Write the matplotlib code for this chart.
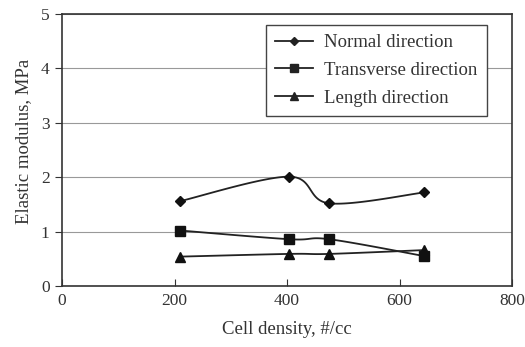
import numpy as np
import matplotlib
matplotlib.use('Agg')
import matplotlib.pyplot as plt

plt.rcParams['font.family'] = ['Liberation Serif', 'DejaVu Serif']

# cell density (#/cc) and elastic modulus (MPa) per direction
density = [210, 404, 475, 644]
normal = [1.56, 2.01, 1.52, 1.72]
transverse = [1.02, 0.86, 0.86, 0.55]
length = [0.54, 0.59, 0.59, 0.66]

x_ticks = [0, 200, 400, 600, 800]
y_ticks = [0, 1, 2, 3, 4, 5]


def smooth(xs, ys, n=40):
    # catmull-rom style bezier through the points (like spreadsheet smoothed lines)
    xs = np.asarray(xs, float)
    ys = np.asarray(ys, float)
    px = np.concatenate([[xs[0]], xs, [xs[-1]]])
    py = np.concatenate([[ys[0]], ys, [ys[-1]]])
    outx, outy = [], []
    t = np.linspace(0, 1, n)
    for i in range(1, len(px) - 2):
        p0 = np.array([px[i], py[i]])
        p3 = np.array([px[i + 1], py[i + 1]])
        c1 = p0 + (np.array([px[i + 1], py[i + 1]]) - np.array([px[i - 1], py[i - 1]])) / 6
        c2 = p3 - (np.array([px[i + 2], py[i + 2]]) - np.array([px[i], py[i]])) / 6
        b = ((1 - t) ** 3)[:, None] * p0 + (3 * (1 - t) ** 2 * t)[:, None] * c1 \
            + (3 * (1 - t) * t ** 2)[:, None] * c2 + (t ** 3)[:, None] * p3
        outx.extend(b[:, 0])
        outy.extend(b[:, 1])
    return outx, outy


fig = plt.figure(figsize=(5.25, 3.47), dpi=100)
ax = fig.add_axes([62 / 525, 61 / 347, 450 / 525, 272 / 347])

series = [(normal, 'D', 5.5, 'Normal direction'),
          (transverse, 's', 6.8, 'Transverse direction'),
          (length, '^', 6.8, 'Length direction')]
for ys, mk, ms, name in series:
    sx, sy = smooth(density, ys)
    ax.plot(sx, sy, color='#222222', lw=1.3)
    ax.plot(density, ys, ls='none', marker=mk, ms=ms, color='#111111')
    ax.plot([], [], color='#222222', lw=1.3, marker=mk, ms=ms * 0.75, label=name)

ax.set_xlim(0, 800)
ax.set_ylim(0, 5)
ax.set_xticks(x_ticks)
ax.set_yticks(y_ticks)
ax.yaxis.grid(True, color='#999999', lw=0.8)
ax.set_axisbelow(True)
for s in ax.spines.values():
    s.set_color('#333333')
    s.set_linewidth(1.2)
ax.tick_params(axis='x', direction='in', length=5, labelsize=12.5, pad=5, colors='#333333')
ax.tick_params(axis='y', direction='out', length=5, labelsize=12.5, pad=4, colors='#333333')
ax.set_xlabel('Cell density, #/cc', fontsize=13.5, color='#333333', labelpad=9)
ax.set_ylabel('Elastic modulus, MPa', fontsize=13.5, color='#333333')
ax.yaxis.set_label_coords(-0.066, 0.53)

leg = ax.legend(loc='upper right', bbox_to_anchor=(0.944, 0.96), fontsize=13.5,
                frameon=True, fancybox=False, framealpha=1, edgecolor='#444444',
                handlelength=2.0, handletextpad=0.6, borderpad=0.5, labelspacing=0.56,
                borderaxespad=0)
leg.get_frame().set_linewidth(1.0)
for t in leg.get_texts():
    t.set_color('#333333')

fig.savefig('out.png', dpi=100)
